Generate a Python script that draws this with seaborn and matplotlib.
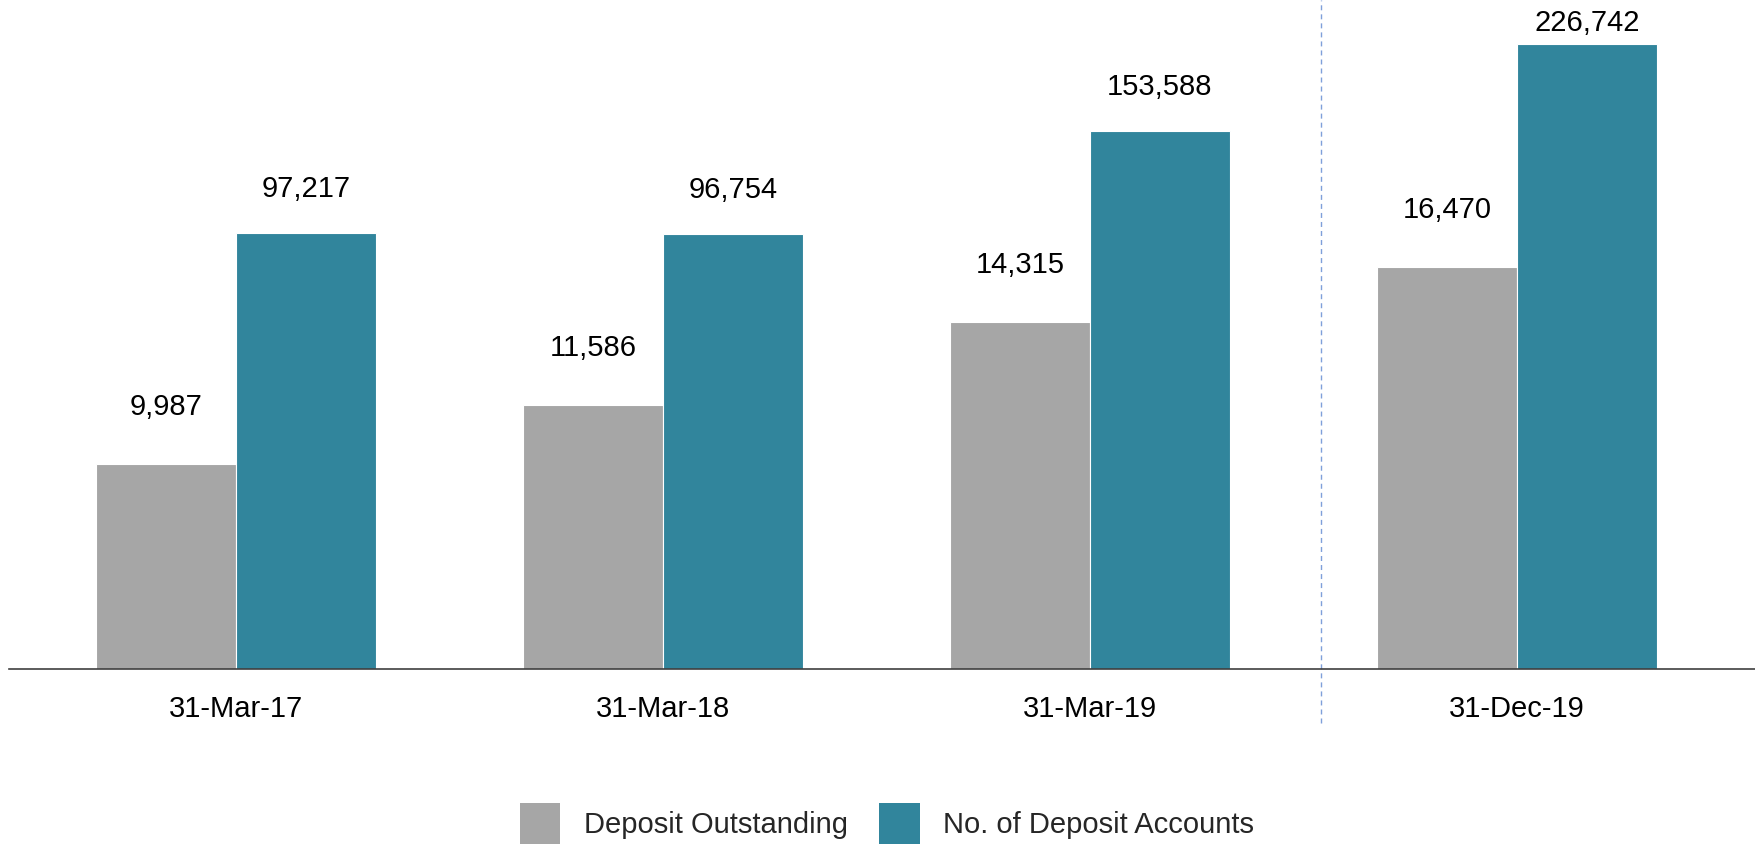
import pandas as pd
import matplotlib.pyplot as plt
import seaborn as sns
from matplotlib.patches import Patch

# Chart data
dates = ['31-Mar-17', '31-Mar-18', '31-Mar-19', '31-Dec-19']
deposit_outstanding = [9987, 11586, 14315, 16470]
deposit_accounts = [97217, 96754, 153588, 226742]
series = ['Deposit Outstanding', 'No. of Deposit Accounts']
colors = ['#A6A6A6', '#31859C']

df = pd.DataFrame({
    'date': dates * 2,
    'series': [series[0]] * len(dates) + [series[1]] * len(dates),
    'value': deposit_outstanding + deposit_accounts,
})

sns.set_theme(style='white')
plt.rcParams['font.family'] = ['Liberation Sans', 'DejaVu Sans']

W, H = 1756, 844
fig = plt.figure(figsize=(W / 100, H / 100), dpi=100)
ax = fig.add_axes([9 / W, 1 - 669 / H, 1 - 9 / W, 669 / H])
ax2 = ax.twinx()
ax.set_yscale('log')
ax2.set_yscale('log')

# each series gets its own (log) value axis, dodged side by side
palette = dict(zip(series, colors))
for a, s in [(ax, series[0]), (ax2, series[1])]:
    sns.barplot(data=df[df.series == s], x='date', y='value', hue='series',
                hue_order=series, order=dates, palette=palette, width=0.656,
                dodge=True, saturation=1, errorbar=None, edgecolor='white',
                linewidth=0.8, legend=False, ax=a)

ax.set_ylim(5934, 32430)
ax2.set_ylim(13785, 276200)
ax.set_xlim(-0.531, 3.560)

for a in (ax, ax2):
    for sp in a.spines.values():
        sp.set_visible(False)
    a.yaxis.set_visible(False)
    a.set_xlabel('')
    a.set_ylabel('')
ax2.spines['bottom'].set_visible(True)
ax2.spines['bottom'].set_color('#404040')
ax2.spines['bottom'].set_linewidth(1.2)

ax.tick_params(axis='x', length=0, pad=19, labelsize=21, labelcolor='black')

# dashed separator before the December figure
ax2.axvline(2.541, ymin=-0.081, ymax=1, clip_on=False, color='#7F9FDA',
            lw=1, ls=(0, (3.6, 2.9)))

# value labels (drawn at figure level so nothing covers them)
for a, off in [(ax, 57), (ax2, 44)]:
    for cont in a.containers:
        for bar in cont:
            x = bar.get_x() + bar.get_width() / 2
            h = bar.get_height()
            xd, top = a.transData.transform((x, h))
            yl = min(top + off, H - 23)
            fig.text(xd / W, yl / H, f'{h:,.0f}', ha='center', va='center',
                     fontsize=21, color='black')

handles = [Patch(facecolor=c, edgecolor='none') for c in colors]
fig.legend(handles, series, loc='upper center',
           bbox_to_anchor=(0.505, 1 - 802.7 / H), ncol=2, frameon=False,
           fontsize=21, handlelength=1.4, handleheight=1.78,
           handletextpad=0.79, columnspacing=1.08, borderpad=0,
           borderaxespad=0)

fig.savefig('out.png', dpi=100)
